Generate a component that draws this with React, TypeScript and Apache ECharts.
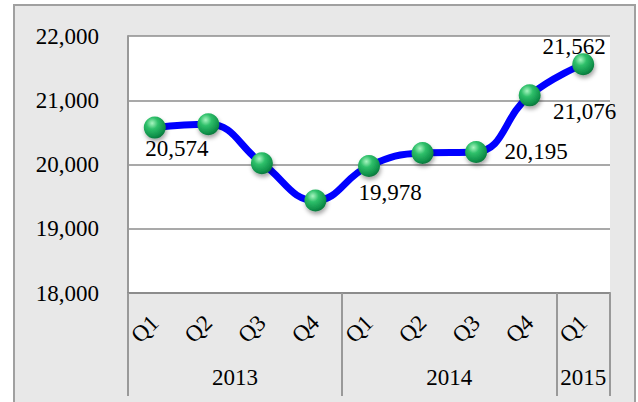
import React, { useEffect, useRef } from "react";
import * as echarts from "echarts";

const quarters = ["Q1", "Q2", "Q3", "Q4", "Q1", "Q2", "Q3", "Q4", "Q1"];
const values = [20574, 20625, 20020, 19440, 19978, 20180, 20195, 21076, 21562];
const years = ["2013", "2014", "2015"];
const yearSizes = [4, 4, 1];
const yTicks = [18000, 19000, 20000, 21000, 22000];
const labelledIdx = [0, 4, 6, 7, 8];

const FONT = "Liberation Serif";
const FS = 23;

export default function App() {
  const ref = useRef<HTMLDivElement>(null);
  useEffect(() => {
    document.body.style.margin = "0";
    if (!ref.current) return;
    const chart = echarts.init(ref.current, null, { renderer: "svg" });

    // label offsets (style only)
    const labelOffsets: Record<number, [number, number]> = {
      0: [22, 21],
      4: [21, 27],
      6: [60, 0],
      7: [55, 16],
      8: [-9, -18],
    };

    const bounds: number[] = [0];
    const centers: number[] = [];
    let acc = 0;
    yearSizes.forEach((s) => {
      centers.push(acc + s / 2);
      acc += s;
      bounds.push(acc);
    });

    const sphere = new echarts.graphic.RadialGradient(0.38, 0.3, 0.75, [
      { offset: 0, color: "#a8f5c0" },
      { offset: 0.35, color: "#2fc06a" },
      { offset: 0.8, color: "#10914a" },
      { offset: 1, color: "#0a7038" },
    ]);

    const data = values.map((v, i) => {
      const item: any = { value: v };
      if (labelledIdx.includes(i)) {
        item.label = {
          show: true,
          position: "inside",
          offset: labelOffsets[i],
          formatter: () => v.toLocaleString("en-US"),
          fontFamily: FONT,
          fontSize: FS,
          color: "#000",
        };
      }
      return item;
    });

    chart.setOption({
      animation: false,
      textStyle: { fontFamily: FONT },
      graphic: [
        {
          type: "rect",
          z: -10,
          silent: true,
          shape: { x: 14, y: 5, width: 621, height: 420 },
          style: { fill: "#e8e8e8", stroke: "#a0a0a0", lineWidth: 2 },
        },
      ],
      grid: {
        left: 128,
        top: 36,
        right: 28,
        bottom: 109,
        show: true,
        backgroundColor: "#ffffff",
        borderWidth: 0,
      },
      xAxis: [
        {
          type: "category",
          data: quarters,
          boundaryGap: true,
          axisLine: { show: true, lineStyle: { color: "#8c8c8c", width: 2 } },
          axisTick: { show: false },
          axisLabel: {
            rotate: 45,
            margin: 26,
            fontFamily: FONT,
            fontSize: FS,
            color: "#000",
            interval: 0,
          },
        },
        {
          type: "value",
          position: "bottom",
          min: 0,
          max: 9,
          axisLine: { show: false },
          splitLine: { show: false },
          axisTick: {
            show: true,
            inside: false,
            length: 103,
            customValues: bounds,
            lineStyle: { color: "#999999", width: 2 },
          },
          axisLabel: {
            show: true,
            margin: 73,
            customValues: centers,
            fontFamily: FONT,
            fontSize: FS,
            color: "#000",
            formatter: (val: number) => {
              const k = centers.findIndex((c) => Math.abs(c - val) < 1e-6);
              return k >= 0 ? years[k] : "";
            },
          },
        },
      ],
      yAxis: {
        type: "value",
        min: yTicks[0],
        max: yTicks[yTicks.length - 1],
        interval: 1000,
        axisLine: { show: true, lineStyle: { color: "#999999", width: 2 } },
        axisTick: { show: false },
        splitLine: { show: true, lineStyle: { color: "#8c8c8c", width: 1.5 } },
        axisLabel: {
          margin: 29,
          fontFamily: FONT,
          fontSize: FS,
          color: "#000",
          formatter: (v: number) => v.toLocaleString("en-US"),
        },
      },
      series: [
        {
          type: "line",
          xAxisIndex: 0,
          data,
          smooth: 0.45,
          symbol: "circle",
          symbolSize: 22,
          showAllSymbol: true,
          lineStyle: { color: "#0000ff", width: 7 },
          itemStyle: {
            color: sphere,
            shadowBlur: 4,
            shadowOffsetY: 3,
            shadowOffsetX: 1,
            shadowColor: "rgba(0,0,0,0.35)",
          },
          z: 3,
        },
      ],
    });
    return () => chart.dispose();
  }, []);
  return <div ref={ref} style={{ width: 638, height: 402 }} />;
}
